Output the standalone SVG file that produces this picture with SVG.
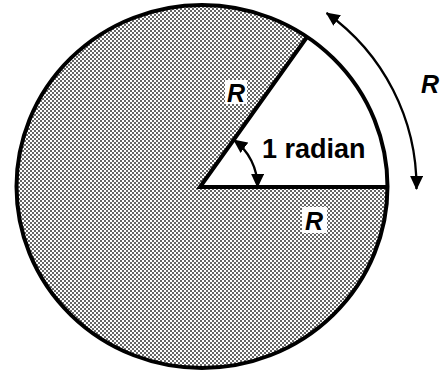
<svg xmlns="http://www.w3.org/2000/svg" width="444" height="372" viewBox="0 0 444 372">
<style>
.lbl{font-family:"Liberation Sans",Arial,sans-serif;font-weight:bold;fill:#000}
.r{font-style:italic;font-size:25px;text-anchor:middle}
.thick{stroke:#000;stroke-width:4;fill:none}
.thin{stroke:#000;stroke-width:2.3;fill:none;marker-start:url(#ah);marker-end:url(#ah)}
.box{fill:#fff}
</style>
<defs>
<pattern id="dots" width="4" height="4" patternUnits="userSpaceOnUse">
<rect width="4" height="4" fill="#fff"/>
<rect x="0" y="0" width="2" height="2" fill="#666"/>
<rect x="2" y="2" width="2" height="2" fill="#666"/>
</pattern>
<marker id="ah" markerUnits="userSpaceOnUse" markerWidth="14" markerHeight="13" refX="13" refY="6.5" orient="auto-start-reverse" viewBox="0 0 14 13">
<path d="M0,0 L14,6.5 L0,13 Z" fill="#000"/>
</marker>
</defs>
<g id="circle">
<ellipse cx="202" cy="186.5" rx="185.5" ry="181.5" fill="url(#dots)"/>
<path d="M200,187 L307,37 A185.5,181.5 0 0,1 387.5,187 Z" fill="#fff"/>
<ellipse cx="202" cy="186.5" rx="185.5" ry="181.5" class="thick"/>
</g>
<g id="radii">
<path d="M307,37 L200,187 L387.5,187" class="thick" stroke-width="3.5" stroke-linejoin="miter"/>
</g>
<g id="connectors">
<path d="M326.6,13 A214,214 0 0,1 416.5,189" class="thin"/>
<path d="M234,140 A58,58 0 0,1 257.5,187" class="thin"/>
</g>
<g id="label-r-radius">
<rect x="225" y="80" width="22" height="24" class="box"/>
<text x="236" y="102" class="lbl r">R</text>
</g>
<g id="label-r-base">
<rect x="302" y="207" width="25" height="26" class="box"/>
<text x="314" y="230" class="lbl r">R</text>
</g>
<g id="label-r-arc">
<text x="430" y="93" class="lbl r">R</text>
</g>
<g id="label-radian">
<text x="262" y="158" class="lbl" font-size="27">1 radian</text>
</g>
</svg>
